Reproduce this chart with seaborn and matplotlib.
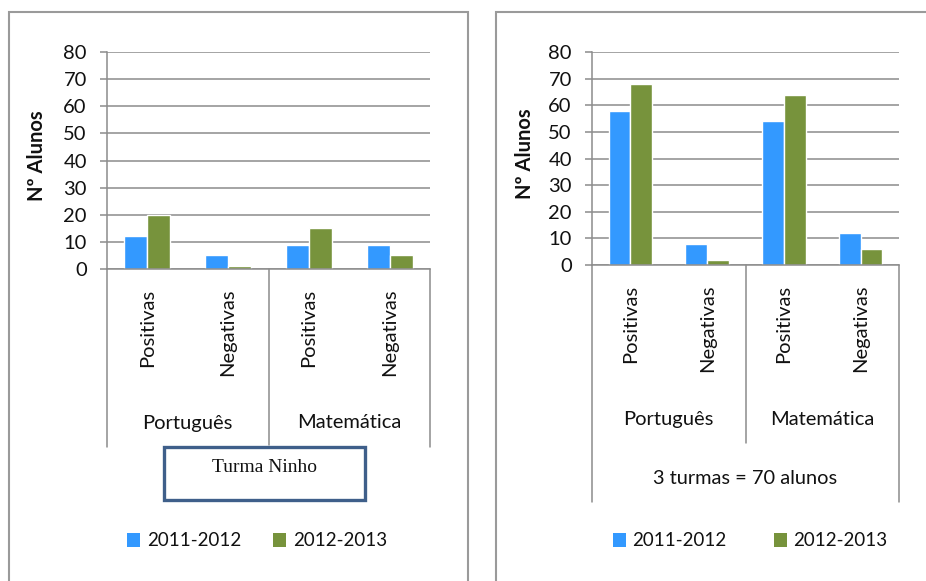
import matplotlib
matplotlib.use("Agg")
import matplotlib.pyplot as plt
from matplotlib.patches import Rectangle, Patch
import seaborn as sns
import pandas as pd

# ---- data ----
subjects = ["Português", "Português", "Matemática", "Matemática"]
results = ["Positivas", "Negativas", "Positivas", "Negativas"]
years = ["2011-2012", "2012-2013"]
ninho_2011 = [12, 5, 9, 9]
ninho_2012 = [20, 1, 15, 5]
total_2011 = [58, 8, 54, 12]
total_2012 = [68, 2, 64, 6]
yticks = [0, 10, 20, 30, 40, 50, 60, 70, 80]
box_title = "Turma Ninho"
right_title = "3 turmas = 70 alunos"
ylabel = "Nº Alunos"

BLUE = "#3399FF"
GREEN = "#77933C"
GRID = "#8C8C8C"
TXT = "#111111"

sns.set_theme(style="white")
plt.rcParams["font.family"] = ["Lato", "DejaVu Sans"]

W, H = 926, 581
fig = plt.figure(figsize=(W / 100, H / 100), dpi=100)
fig.patch.set_facecolor("white")


def fx(px):
    return px / W


def fy(py):
    return 1 - py / H


def make_df(v1, v2):
    cats = [f"{s}|{r}" for s, r in zip(subjects, results)]
    rows = []
    for c, a, b in zip(cats, v1, v2):
        rows.append({"cat": c, "year": years[0], "val": a})
        rows.append({"cat": c, "year": years[1], "val": b})
    return pd.DataFrame(rows), cats


def draw_panel(x0, x1, y_top, y_zero, v1, v2, outer_bottom, mid_bottom, group_y, ylab_x):
    ax = fig.add_axes([fx(x0), fy(y_zero), fx(x1) - fx(x0), (y_zero - y_top) / H])
    df, cats = make_df(v1, v2)
    sns.barplot(data=df, x="cat", y="val", hue="year", order=cats,
                hue_order=years, palette=[BLUE, GREEN], width=0.57,
                saturation=1, ax=ax, legend=False, errorbar=None)
    ax.set_ylim(0, 80)
    ax.set_xlim(-0.5, 3.5)
    ax.set_yticks(yticks)
    ax.set_yticklabels([str(t) for t in yticks], fontsize=14.5, color=TXT)
    ax.yaxis.grid(True, color=GRID, linewidth=1.1)
    ax.set_axisbelow(True)
    for s in ["top", "right"]:
        ax.spines[s].set_visible(False)
    for s in ["left", "bottom"]:
        ax.spines[s].set_color(GRID)
        ax.spines[s].set_linewidth(1.1)
    ax.tick_params(axis="y", length=5, width=1.1, color=GRID, pad=9.5, left=True)
    ax.tick_params(axis="x", length=0, pad=14)
    ax.set_xticks(range(4))
    ax.set_xticklabels(results, rotation=90, fontsize=14.5, color=TXT, va="top")
    ax.set_xlabel("")
    ax.set_ylabel("")
    # category separators
    h = y_zero - y_top
    for xs, yb in [(-0.5, outer_bottom), (1.5, mid_bottom), (3.5, outer_bottom)]:
        frac = -(yb - y_zero) / h
        ax.plot([xs, xs], [0, frac], transform=ax.get_xaxis_transform(),
                color=GRID, linewidth=1.1, clip_on=False)
    gy = -(group_y - y_zero) / h
    ax.text(0.5, gy, subjects[0], transform=ax.get_xaxis_transform(),
            ha="center", va="center", fontsize=14.5, color=TXT)
    ax.text(2.5, gy, subjects[2], transform=ax.get_xaxis_transform(),
            ha="center", va="center", fontsize=14.5, color=TXT)
    fig.text(fx(ylab_x), fy((y_top + y_zero) / 2 - 5), ylabel, rotation=90,
             ha="center", va="center", fontsize=14.5, fontweight="bold", color=TXT)
    return ax


# panel borders
fig.patches.append(Rectangle((fx(9), fy(600)), fx(468) - fx(9), fy(12) - fy(600),
                             transform=fig.transFigure, fill=False,
                             edgecolor="#9a9a9a", linewidth=1.5))
fig.patches.append(Rectangle((fx(496), fy(600)), fx(960) - fx(496), fy(12) - fy(600),
                             transform=fig.transFigure, fill=False,
                             edgecolor="#9a9a9a", linewidth=1.5))

axL = draw_panel(107, 430, 52, 269, ninho_2011, ninho_2012, 447, 445, 423, 37)
axR = draw_panel(592, 899, 52, 265, total_2011, total_2012, 502, 443, 419, 525)

# Turma Ninho box
fig.patches.append(Rectangle((fx(164), fy(500)), fx(365) - fx(164), fy(447) - fy(500),
                             transform=fig.transFigure, fill=True, facecolor="white",
                             edgecolor="#3F5F8A", linewidth=2.4, zorder=5))
fig.text(fx(265), fy(467), box_title, ha="center", va="center",
         fontsize=14, family=["Liberation Serif", "DejaVu Serif"], color=TXT, zorder=6)

fig.text(fx(745), fy(479), right_title, ha="center", va="center",
         fontsize=14.4, color=TXT)

# legends
handles = [Patch(facecolor=BLUE, edgecolor="none"), Patch(facecolor=GREEN, edgecolor="none")]
for cx, cs in [(257, 1.7), (750, 2.5)]:
    fig.legend(handles, years, loc="center", bbox_to_anchor=(fx(cx), fy(541)),
               bbox_transform=fig.transFigure, ncol=2, frameon=False,
               fontsize=13.5, handlelength=0.7, handleheight=0.7,
               handletextpad=0.35, columnspacing=cs, labelcolor=TXT)

fig.savefig("out.png", dpi=100, facecolor="white")
